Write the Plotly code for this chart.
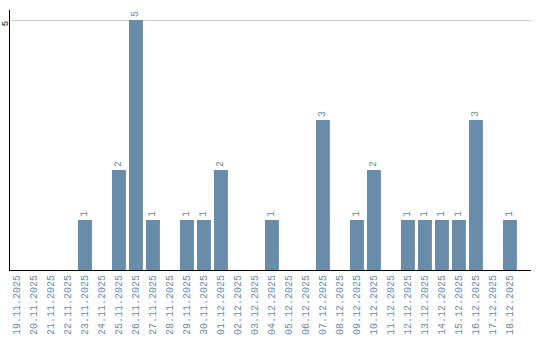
import plotly.graph_objects as go

dates = ["19.11.2025","20.11.2025","21.11.2025","22.11.2025","23.11.2025","24.11.2025",
         "25.11.2025","26.11.2025","27.11.2025","28.11.2025","29.11.2025","30.11.2025",
         "01.12.2025","02.12.2025","03.12.2025","04.12.2025","05.12.2025","06.12.2025",
         "07.12.2025","08.12.2025","09.12.2025","10.12.2025","11.12.2025","12.12.2025",
         "13.12.2025","14.12.2025","15.12.2025","16.12.2025","17.12.2025","18.12.2025"]
counts = [0,0,0,0,1,0,2,5,1,0,1,1,2,0,0,1,0,0,3,0,1,2,0,1,1,1,1,3,0,1]
y_ticks = [5]

bar_color = "#6a8cab"
labels = [str(v) if v > 0 else "" for v in counts]
font_family = "Liberation Mono"

fig = go.Figure(go.Bar(
    x=list(range(len(dates))), y=counts,
    marker=dict(color=bar_color, line=dict(width=0)),
    width=0.82,
    text=labels, textposition="outside", textangle=-90,
    textfont=dict(family=font_family, size=10, color=bar_color),
    cliponaxis=False,
))

fig.update_layout(
    width=540, height=340,
    margin=dict(l=10, r=9, t=10, b=70),
    paper_bgcolor="white", plot_bgcolor="white",
    showlegend=False,
    xaxis=dict(
        tickmode="array", tickvals=list(range(len(dates))), ticktext=dates,
        tickangle=-90, range=[-0.41, 30.24], automargin=False,
        tickfont=dict(family=font_family, size=10, color=bar_color),
        showline=True, linecolor="black", linewidth=1,
        showgrid=False, ticks="", zeroline=False,
    ),
    yaxis=dict(
        range=[0, 5.2], tickmode="array", tickvals=y_ticks,
        tickangle=-90, automargin=False,
        tickfont=dict(family=font_family, size=9, color="black"),
        showline=True, linecolor="black", linewidth=1,
        showgrid=True, gridcolor="#cccccc", gridwidth=1,
        zeroline=False, ticks="", ticklabelstandoff=-3, ticklabelshift=5,
    ),
)

fig.write_html("out.html")
